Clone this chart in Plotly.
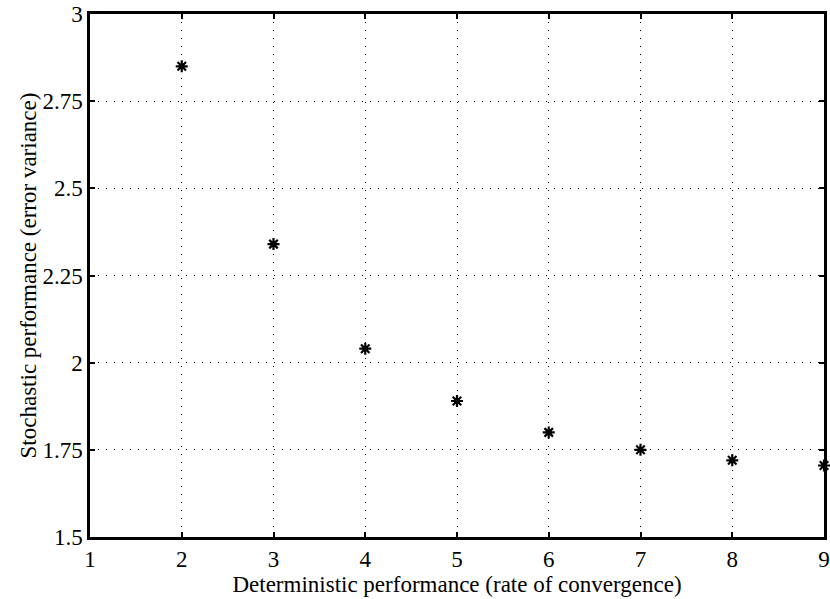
import plotly.graph_objects as go

# Rate of convergence vs. error variance
det_perf = [2, 3, 4, 5, 6, 7, 8, 9]
stoch_perf = [2.85, 2.34, 2.04, 1.89, 1.80, 1.75, 1.72, 1.705]

x_ticks = [1, 2, 3, 4, 5, 6, 7, 8, 9]
y_ticks = [1.5, 1.75, 2, 2.25, 2.5, 2.75, 3]
y_labels = ["1.5", "1.75", "2", "2.25", "2.5", "2.75", "3"]

font_family = "Liberation Serif"
font_size = 23

fig = go.Figure()
fig.add_trace(go.Scatter(
    x=det_perf, y=stoch_perf, mode="markers",
    marker=dict(symbol="asterisk", size=10, color="black",
                line=dict(color="black", width=2.2)),
    cliponaxis=False, showlegend=False,
))

axis_common = dict(
    showline=True, linecolor="black", linewidth=2.5, mirror="allticks",
    ticks="inside", ticklen=5, tickwidth=1.5, tickcolor="black",
    showgrid=True, gridcolor="black", gridwidth=1, griddash="1px,7px",
    zeroline=False, automargin=False,
    tickfont=dict(family=font_family, size=font_size, color="black"),
)

fig.update_xaxes(range=[1, 9], tickvals=x_ticks, **axis_common,
                 title=dict(text="Deterministic performance (rate of convergence)",
                            font=dict(family=font_family, size=font_size, color="black"),
                            standoff=0))
fig.update_yaxes(range=[1.5, 3], tickvals=y_ticks, ticktext=y_labels, **axis_common,
                 title=dict(text="Stochastic performance (error variance)",
                            font=dict(family=font_family, size=font_size, color="black"),
                            standoff=0))

fig.update_layout(
    width=830, height=599,
    margin=dict(l=90, r=6, t=14, b=62),
    paper_bgcolor="white", plot_bgcolor="white",
)

fig.write_html("out.html")
